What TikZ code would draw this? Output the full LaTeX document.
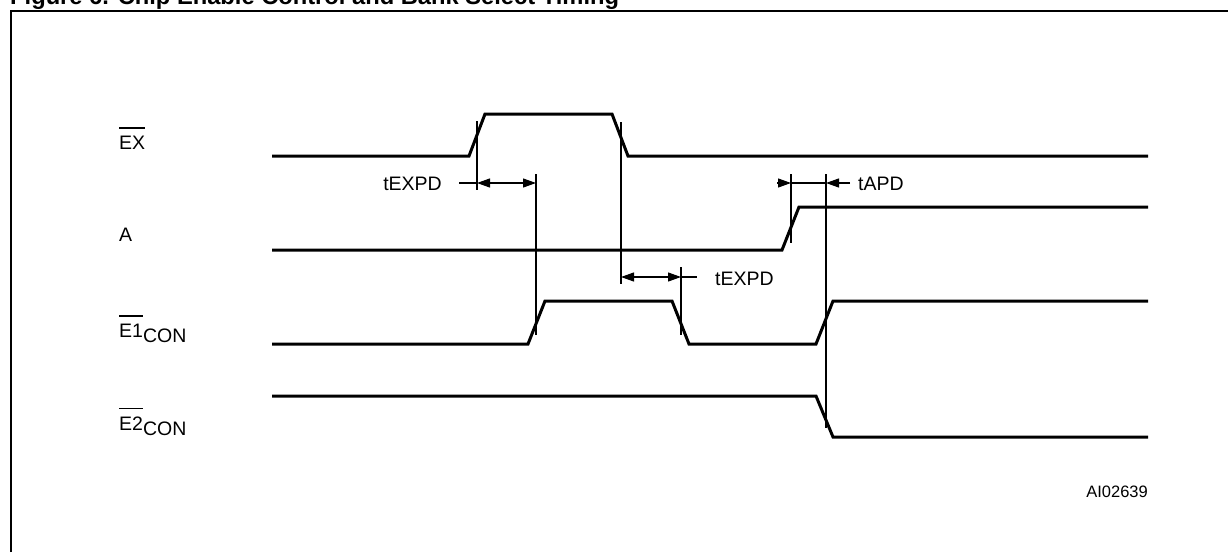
\documentclass[tikz,border=0pt]{standalone}
\usepackage{fontspec}
\setmainfont{Liberation Sans}
\usepackage{tikz}
\usetikzlibrary{arrows.meta}

\newcommand{\ovl}[1]{\vbox{\hrule height 1.3pt\kern 7pt\hbox{#1}}}
\tikzset{
  wave/.style={line width=3pt, line join=miter},
  guide/.style={line width=1.2pt},
  dimarrow/.style={line width=1.2pt, {Triangle[length=13pt,width=9pt]}-{Triangle[length=13pt,width=9pt]}},
  onearrow/.style={line width=1.2pt, -{Triangle[length=13pt,width=9pt]}},
  signame/.style={anchor=base west, inner sep=0pt, font=\fontsize{19.5}{22}\selectfont},
  timelabel/.style={inner sep=0pt, font=\fontsize{19.5}{22}\selectfont},
}

\begin{document}
\begin{tikzpicture}[x=1pt, y=-1pt]
  \useasboundingbox (0,0) rectangle (1228,552);

  % caption and frame
  \node[anchor=base west, inner sep=0pt, font=\bfseries\fontsize{23.7}{26}\selectfont] (caption) at (10,4) {Figure 6. Chip Enable Control and Bank Select Timing};
  \draw[line width=2.5pt] (11,552) -- (11,11) -- (1228,11);

  % signal names
  \node[signame] (exname) at (119,149) {\ovl{EX}};
  \node[signame] (aname) at (119,241) {A};
  \node[signame] (eonename) at (119,337) {\ovl{E1}\raisebox{-5pt}{CON}};
  \node[signame] (etwoname) at (119,430) {\ovl{E2}\raisebox{-5pt}{CON}};

  % waveforms
  \draw[wave] (272,156) -- (469,156) -- (485,114) -- (612,114) -- (628,156) -- (1148,156);
  \draw[wave] (272,250) -- (782,250) -- (799,207) -- (1148,207);
  \draw[wave] (272,344) -- (528,344) -- (545,301) -- (672,301) -- (689,344) -- (816,344) -- (833,301) -- (1148,301);
  \draw[wave] (272,396) -- (816,396) -- (833,437) -- (1148,437);

  % reference lines at the edges
  \coordinate (exrise) at (477,121);   \coordinate (exrisebot) at (477,190);
  \coordinate (eonerise) at (536,174); \coordinate (eonerisebot) at (536,335);
  \coordinate (exfall) at (621,122);   \coordinate (exfallbot) at (621,284);
  \coordinate (eonefall) at (681,267); \coordinate (eonefallbot) at (681,335);
  \coordinate (arise) at (791,174);    \coordinate (arisebot) at (791,243);
  \coordinate (bankedge) at (826,174); \coordinate (bankedgebot) at (826,428);
  \draw[guide] (exrise) -- (exrisebot);
  \draw[guide] (eonerise) -- (eonerisebot);
  \draw[guide] (exfall) -- (exfallbot);
  \draw[guide] (eonefall) -- (eonefallbot);
  \draw[guide] (arise) -- (arisebot);
  \draw[guide] (bankedge) -- (bankedgebot);

  % tEXPD, EX rising
  \coordinate (dexa) at (477,183); \coordinate (dexb) at (536,183);
  \coordinate (dextail) at (459,183);
  \draw[dimarrow] (dexa) -- (dexb);
  \draw[guide] (dextail) -- (dexa);
  \node[timelabel, anchor=base east] (texpdone) at (442,190.5) {tEXPD};

  % tEXPD, EX falling
  \coordinate (dfla) at (621,277); \coordinate (dflb) at (681,277);
  \coordinate (dfltail) at (697,277);
  \draw[dimarrow] (dfla) -- (dflb);
  \draw[guide] (dflb) -- (dfltail);
  \node[timelabel, anchor=base west] (texpdtwo) at (715,285) {tEXPD};

  % tAPD
  \coordinate (dapa) at (791,183); \coordinate (dapb) at (826,183);
  \coordinate (dapin) at (777,183); \coordinate (dapout) at (850,183);
  \draw[onearrow] (dapin) -- (dapa);
  \draw[onearrow] (dapout) -- (dapb);
  \draw[guide] (dapa) -- (dapb);
  \node[timelabel, anchor=base west] (tapd) at (858,190.5) {tAPD};

  \node[anchor=base east, inner sep=0pt, font=\fontsize{16.5}{19}\selectfont] (figid) at (1148,497) {AI02639};
\end{tikzpicture}
\end{document}
